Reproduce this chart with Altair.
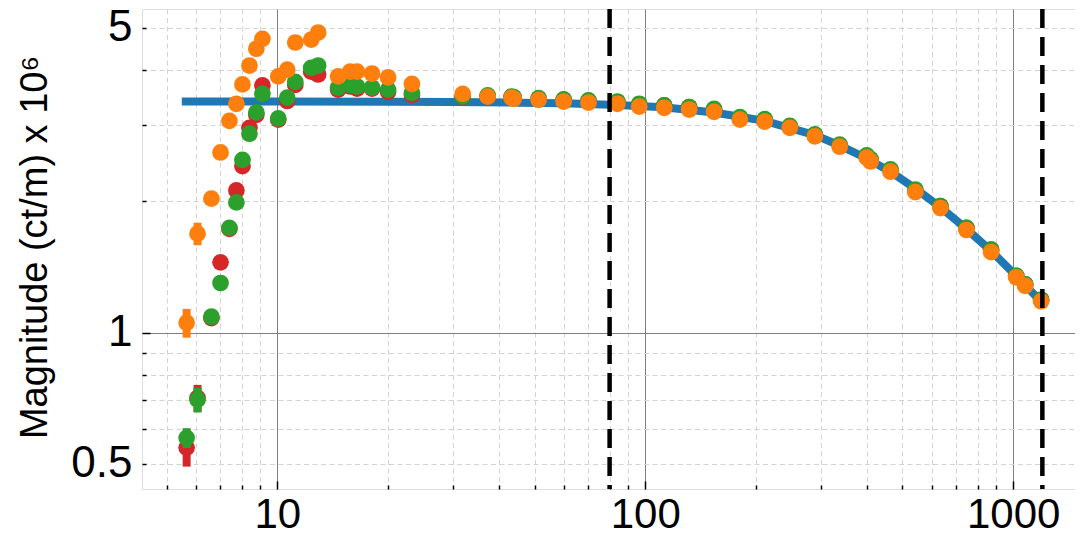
import altair as alt
import pandas as pd

# ---- data ------------------------------------------------------------------
freq = [5.67, 6.07, 6.62, 7.01, 7.41, 7.74, 8.04, 8.40, 8.77, 9.11,
        10.06, 10.64, 11.19, 12.36, 12.91, 14.63, 15.77, 16.47, 18.09, 20.0, 23.22,
        31.9, 37.3, 43.3, 43.9, 51.3, 60.0, 70.1, 84.0, 96.3, 112.6, 131.6, 153.8,
        180.8, 211.2, 247.0, 289.0, 337.6, 399.6, 409.6, 464.0, 542.0, 634.0, 746.0,
        871.0, 1019.0, 1078.0, 1191.0]

orange = [1.054, 1.687, 2.03, 2.59, 3.06, 3.35, 3.71, 4.10, 4.48, 4.72,
          3.87, 4.01, 4.63, 4.70, 4.88, 3.87, 3.97, 3.97, 3.93, 3.85, 3.72,
          3.53, 3.48, 3.46, 3.44, 3.42, 3.39, 3.37, 3.35, 3.30, 3.28, 3.25, 3.21,
          3.08, 3.05, 2.95, 2.82, 2.67, 2.52, 2.47, 2.34, 2.10, 1.93, 1.72,
          1.53, 1.34, 1.28, 1.18]
green = [0.574, 0.702, 1.088, 1.30, 1.74, 1.99, 2.49, 2.86, 3.20, 3.53,
         3.10, 3.46, 3.76, 4.05, 4.10, 3.65, 3.70, 3.67, 3.65, 3.61, 3.55,
         3.48, 3.50, 3.48, 3.47, 3.45, 3.43, 3.41, 3.39, 3.35, 3.32, 3.29, 3.26,
         3.12, 3.09, 2.98, 2.85, 2.70, 2.55, 2.50, 2.37, 2.13, 1.95, 1.74,
         1.55, 1.35, 1.29, 1.19]
red = [0.545, 0.709, 1.08, 1.45, 1.73, 2.12, 2.41, 2.95, 3.16, 3.69,
       3.08, 3.40, 3.70, 3.97, 3.91, 3.61, 3.67, 3.63, 3.63, 3.57, 3.51,
       3.47, 3.49, 3.47, 3.46, 3.44, 3.42, 3.40, 3.38, 3.34, 3.32, 3.29, 3.25,
       3.11, 3.08, 2.97, 2.84, 2.69, 2.54, 2.49, 2.36, 2.12, 1.95, 1.74,
       1.55, 1.35, 1.29, 1.19]

orange_err = [0.08, 0.10, 0.04, 0.03, 0.03, 0.02, 0.02, 0.02, 0.02, 0.02] + [0.01] * 38
green_err = [0.03, 0.046, 0.02, 0.02, 0.02, 0.02, 0.02, 0.02, 0.02, 0.02] + [0.01] * 38
red_err = [0.052, 0.05, 0.02, 0.02, 0.02, 0.02, 0.02, 0.02, 0.02, 0.02] + [0.01] * 38

model_freq = [5.5, 10, 20, 30, 45, 60, 84, 112, 154, 211, 289, 340, 400, 464,
              542, 634, 746, 871, 1019, 1200]
model_mag = [3.39, 3.39, 3.385, 3.38, 3.37, 3.36, 3.33, 3.29, 3.20, 3.06, 2.84,
             2.68, 2.51, 2.34, 2.14, 1.94, 1.73, 1.54, 1.35, 1.17]

vlines = [80, 1200]

x_label_vals = [10, 100, 1000]
x_minor_vals = [5, 6, 7, 8, 9, 20, 30, 40, 50, 60, 70, 80, 90,
                200, 300, 400, 500, 600, 700, 800, 900]
y_label_vals = [0.5, 1, 5]
y_major_vals = [1]
y_minor_vals = [0.5, 0.6, 0.7, 0.8, 0.9, 2, 3, 4, 5]

XDOM = [4.288, 1472]
YDOM = [0.438, 5.526]

FONT = "Liberation Sans"
C_RED, C_GREEN, C_ORANGE, C_BLUE = "#d62728", "#2ca02c", "#ff7f0e", "#1f77b4"

# ---- tables -----------------------------------------------------------------
def series_df(vals, errs):
    return pd.DataFrame({"f": freq, "v": vals,
                         "lo": [a - b for a, b in zip(vals, errs)],
                         "hi": [a + b for a, b in zip(vals, errs)]})

df_red = series_df(red, red_err)
df_green = series_df(green, green_err)
df_orange = series_df(orange, orange_err)
df_model = pd.DataFrame({"f": model_freq, "v": model_mag})
df_vl = pd.DataFrame({"f": vlines})

xs = alt.Scale(type="log", domain=XDOM, nice=False)
ys = alt.Scale(type="log", domain=YDOM, nice=False)

# ---- axes -------------------------------------------------------------------
x_labels = alt.Axis(orient="bottom", values=x_label_vals, format="d", ticks=False,
                    domain=False, grid=False, labelFontSize=42, labelFont=FONT,
                    labelColor="black", labelPadding=5, labelFlush=False,
                    labelOverlap=False, title=None)
x_major = alt.Axis(orient="bottom", values=x_label_vals, labels=False, ticks=True,
                   tickSize=8, tickWidth=1.5, tickColor="black", offset=-8,
                   domain=False, grid=True, gridColor="#7f7f7f", gridWidth=1,
                   title=None)
x_minor = alt.Axis(orient="bottom", values=x_minor_vals, labels=False, ticks=True,
                   tickSize=4, tickWidth=1.5, tickColor="black", offset=-4,
                   domain=False, grid=True, gridColor="#d3d3d3", gridWidth=1,
                   gridDash=[5, 3.5], title=None)

y_labels = alt.Axis(orient="left", values=y_label_vals, format="~g", ticks=False,
                    domain=False, grid=False, labelFontSize=44, labelFont=FONT,
                    labelColor="black", labelPadding=10, labelFlush=False,
                    labelOverlap=False,
                    title="Magnitude (ct/m) x 10\u2076", titleFont=FONT,
                    titleFontSize=38, titleFontWeight="normal", titleColor="black",
                    titleX=-96, titleY=238, titleAngle=270, titleAlign="center",
                    titleBaseline="alphabetic")
y_major = alt.Axis(orient="left", values=y_major_vals, labels=False, ticks=True,
                   tickSize=8, tickWidth=1.5, tickColor="black", offset=-8,
                   domain=False, grid=True, gridColor="#7f7f7f", gridWidth=1,
                   title=None)
y_minor = alt.Axis(orient="left", values=y_minor_vals, labels=False, ticks=True,
                   tickSize=4, tickWidth=1.5, tickColor="black", offset=-4,
                   domain=False, grid=True, gridColor="#d3d3d3", gridWidth=1,
                   gridDash=[5, 3.5], title=None)

# ---- layers -----------------------------------------------------------------
model = alt.Chart(df_model).mark_line(color=C_BLUE, strokeWidth=8, strokeCap="butt").encode(
    x=alt.X("f:Q", scale=xs, axis=x_labels),
    y=alt.Y("v:Q", scale=ys, axis=y_labels),
)

def err_layer(d, color):
    return alt.Chart(d).mark_rule(color=color, strokeWidth=8).encode(
        x=alt.X("f:Q", scale=xs, axis=None),
        y=alt.Y("lo:Q", scale=ys, axis=None),
        y2="hi:Q",
    )

def pts_layer(d, color, xaxis=None, yaxis=None):
    return alt.Chart(d).mark_circle(color=color, size=280, opacity=1).encode(
        x=alt.X("f:Q", scale=xs, axis=xaxis),
        y=alt.Y("v:Q", scale=ys, axis=yaxis),
    )

vl = alt.Chart(df_vl).mark_rule(color="black", strokeWidth=4.5, strokeDash=[19, 9]).encode(
    x=alt.X("f:Q", scale=xs, axis=None),
)

chart = alt.layer(
    model,
    err_layer(df_red, C_RED), pts_layer(df_red, C_RED, x_major, y_major),
    err_layer(df_green, C_GREEN), pts_layer(df_green, C_GREEN, x_minor, y_minor),
    err_layer(df_orange, C_ORANGE), pts_layer(df_orange, C_ORANGE),
    vl,
).resolve_axis(x="independent", y="independent").properties(
    width=933, height=480,
    autosize=alt.AutoSizeParams(type="none"),
    padding={"left": 134, "top": 1, "right": 0, "bottom": 40},
).configure_view(
    stroke="#8a8a8a", strokeWidth=2
).configure(font=FONT)

chart.save("out.html", embed_options={"renderer": "svg", "actions": False})
